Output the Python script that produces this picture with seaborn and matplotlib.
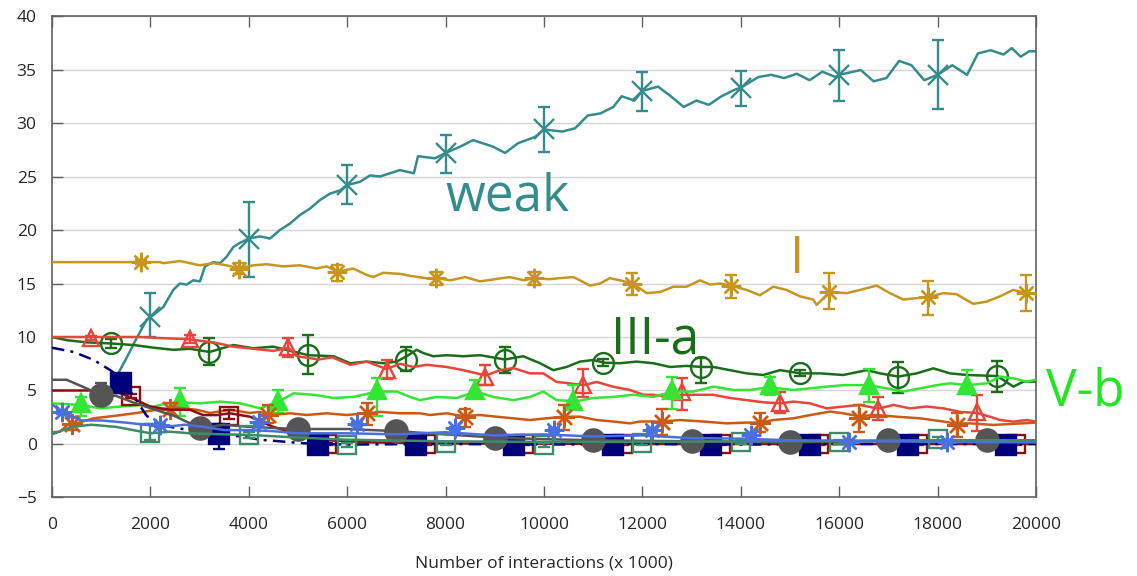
import matplotlib
matplotlib.use("Agg")
import matplotlib.pyplot as plt
import numpy as np
import pandas as pd
import seaborn as sns

# ---- line traces, (interactions x1000, value) ----
weak_line = [(900, 3.5), (1100, 4.3), (1300, 6.2), (1500, 7.9), (1700, 9.7), (1924, 11.6),
             (2060, 12.05), (2263, 12.8), (2466, 14.4), (2600, 15.0), (2738, 14.9), (2872, 15.3),
             (3008, 15.2), (3110, 16.6), (3279, 17.0), (3415, 16.9), (3550, 17.5), (3685, 18.4),
             (3821, 18.8), (4000, 19.2), (4228, 19.4), (4431, 19.2), (4634, 20.0), (4837, 20.6),
             (5041, 21.4), (5244, 22.0), (5447, 22.8), (5650, 23.4), (5854, 23.7), (6000, 24.2),
             (6260, 24.5), (6463, 25.1), (6667, 25.0), (6870, 25.3), (7073, 25.6), (7356, 25.3),
             (7440, 26.9), (7785, 26.7), (8000, 27.2), (8300, 27.8), (8560, 28.4), (8960, 27.8),
             (9210, 27.2), (9470, 28.1), (9820, 28.7), (10000, 29.4), (10370, 29.2), (10630, 29.5),
             (10890, 30.7), (11150, 30.9), (11410, 31.5), (11580, 32.5), (11840, 32.1), (12000, 33.0),
             (12320, 33.4), (12580, 32.5), (12840, 31.5), (13100, 32.1), (13350, 31.7), (13610, 32.5),
             (13870, 33.1), (14000, 33.3), (14360, 34.3), (14620, 34.5), (14880, 34.2), (15140, 34.6),
             (15400, 34.0), (15660, 34.8), (15920, 34.3), (16000, 34.5), (16440, 34.95), (16700, 33.9),
             (16960, 34.2), (17220, 35.8), (17470, 35.4), (17730, 34.0), (18000, 34.5), (18300, 35.4),
             (18600, 34.5), (18820, 36.5), (19080, 36.8), (19340, 36.4), (19510, 37.0), (19690, 36.2),
             (19860, 36.7), (20000, 36.7)]

gold_line = [(0, 17.0), (1000, 17.0), (1800, 17.0), (2195, 17.0), (2263, 16.9), (2600, 17.1),
             (3008, 16.7), (3279, 16.9), (3550, 16.7), (3808, 16.4), (4092, 16.7), (4363, 16.8),
             (4702, 16.6), (5041, 16.7), (5380, 16.4), (5583, 16.6), (5806, 16.1), (6125, 16.4),
             (6396, 15.8), (6531, 15.6), (6734, 16.0), (7073, 15.9), (7300, 15.7), (7600, 15.5),
             (7800, 15.5), (8100, 15.3), (8400, 15.6), (8700, 15.2), (9000, 15.4), (9300, 15.6),
             (9600, 15.3), (9800, 15.5), (10100, 15.4), (10325, 15.5), (10596, 15.6), (10732, 15.3),
             (10935, 14.8), (11138, 15.0), (11341, 15.5), (11545, 15.3), (11803, 15.0), (12088, 14.1),
             (12359, 14.2), (12630, 14.7), (12901, 14.7), (13172, 15.3), (13376, 14.9), (13580, 15.0),
             (13801, 14.8), (14119, 14.4), (14390, 13.9), (14661, 14.7), (14932, 14.4), (15203, 13.8),
             (15474, 13.5), (15542, 13.0), (15813, 14.2), (16153, 14.1), (16424, 14.4), (16762, 14.8),
             (17033, 14.1), (17304, 13.5), (17508, 13.6), (17797, 13.7), (18115, 14.1), (18386, 14.0),
             (18725, 13.1), (18997, 13.3), (19268, 13.8), (19539, 14.4), (19810, 14.1), (20000, 14.0)]

dkgreen_line = [(0, 10.0), (305, 9.7), (700, 9.5), (1186, 9.4), (1660, 9.25), (2066, 9.0),
                (2473, 8.8), (2800, 8.9), (3205, 8.6), (3686, 9.25), (4093, 8.95), (4500, 9.1),
                (4850, 8.7), (5210, 8.3), (5725, 8.2), (6060, 7.55), (6400, 7.7), (6735, 7.55),
                (7007, 7.7), (7209, 8.2), (7412, 8.8), (7548, 8.5), (7751, 8.2), (8022, 8.3),
                (8360, 8.2), (8700, 8.3), (9208, 7.9), (9580, 8.2), (9919, 7.55), (10190, 6.9),
                (10461, 7.2), (10732, 7.7), (11003, 7.85), (11220, 7.6), (11545, 7.55), (11883, 7.7),
                (12222, 7.55), (12561, 7.2), (12900, 7.3), (13204, 7.2), (13442, 7.2), (13780, 6.9),
                (14119, 6.6), (14458, 6.45), (14797, 6.9), (15217, 6.6), (15610, 6.6), (16085, 6.45),
                (16559, 6.9), (16830, 6.6), (17203, 6.3), (17576, 6.6), (17915, 7.07), (18254, 6.6),
                (18593, 6.45), (19217, 6.35), (19542, 5.36), (19746, 5.83), (20000, 5.83)]

ltgreen_line = [(0, 3.8), (576, 3.65), (983, 3.33), (1390, 3.5), (1796, 3.65), (2066, 3.5),
                (2337, 3.8), (2608, 3.9), (3015, 3.8), (3422, 3.96), (3828, 3.8), (4234, 3.33),
                (4607, 3.96), (4912, 4.74), (5318, 4.6), (5725, 4.3), (6131, 4.4), (6600, 4.9),
                (7007, 4.9), (7280, 4.4), (7480, 4.1), (7819, 4.4), (8225, 4.3), (8619, 4.9),
                (8970, 4.4), (9377, 4.1), (9716, 4.4), (9987, 4.9), (10258, 4.1), (10664, 4.0),
                (11003, 4.3), (11409, 4.4), (11816, 4.6), (12222, 4.4), (12629, 4.9), (13035, 4.9),
                (13442, 5.36), (13848, 5.05), (14187, 5.05), (14560, 5.3), (15068, 5.05), (15407, 5.2),
                (15746, 5.36), (16085, 5.5), (16593, 5.5), (16966, 5.2), (17305, 4.9), (17644, 5.2),
                (17983, 5.5), (18254, 5.67), (18607, 5.5), (19000, 5.67), (19271, 6.3), (19542, 6.14),
                (19810, 5.83), (20000, 6.0)]

red_line = [(0, 10.0), (1000, 10.0), (1800, 10.0), (2200, 9.9), (2747, 9.8), (3280, 9.5),
            (3686, 9.1), (4093, 8.9), (4500, 8.7), (4805, 9.0), (4980, 8.2), (5420, 7.9),
            (5700, 8.1), (6060, 7.4), (6400, 7.7), (6800, 7.0), (7073, 7.5), (7345, 7.2),
            (7616, 7.4), (8022, 7.2), (8360, 6.9), (8821, 6.4), (9106, 6.9), (9377, 7.1),
            (9716, 6.6), (9987, 6.6), (10258, 5.8), (10461, 5.7), (10813, 5.5), (11071, 5.8),
            (11409, 5.35), (11748, 5.05), (12019, 4.6), (12222, 4.6), (12493, 4.4), (12798, 4.6),
            (13103, 4.6), (13442, 4.6), (13780, 4.3), (14119, 4.1), (14458, 3.9), (14810, 3.8),
            (15068, 3.96), (15407, 3.8), (15746, 3.33), (16085, 3.5), (16424, 3.65), (16797, 3.3),
            (17102, 3.65), (17441, 3.33), (17780, 3.5), (18119, 3.33), (18458, 3.0), (18809, 2.9),
            (19067, 2.55), (19271, 2.24), (19542, 2.09), (19810, 2.24), (20000, 2.09)]

orange_line = [(0, 1.1), (163, 1.15), (366, 2.0), (480, 1.9), (840, 2.4), (1314, 2.65),
               (1721, 2.9), (2127, 3.2), (2533, 3.4), (2940, 3.2), (3211, 2.9), (3618, 3.2),
               (4024, 2.9), (4228, 3.0), (4431, 2.7), (4837, 2.87), (5176, 2.71), (5583, 2.87),
               (5990, 2.71), (6382, 2.87), (6667, 3.0), (7073, 2.87), (7480, 2.87), (7683, 2.71),
               (8022, 2.87), (8360, 2.6), (8700, 2.71), (9038, 2.55), (9377, 2.4), (9716, 2.24),
               (10054, 2.4), (10393, 2.55), (10732, 2.55), (11071, 2.24), (11409, 2.1), (11748, 1.93),
               (11951, 2.1), (12392, 2.1), (12764, 2.24), (13238, 2.1), (13712, 1.93), (14119, 2.0),
               (14390, 2.0), (14661, 2.24), (15068, 2.4), (15407, 2.7), (15813, 3.03), (16085, 2.87),
               (16389, 2.6), (16762, 2.71), (17169, 2.55), (17644, 2.4), (18119, 2.1), (18388, 1.9),
               (18661, 1.93), (19136, 1.78), (19610, 1.9), (20000, 2.0)]

navy_line = [(0, 9.0), (442, 8.6), (850, 7.85), (1186, 6.9), (1390, 6.2), (1500, 5.6),
             (1660, 4.45), (1931, 2.6), (2337, 1.65), (2744, 1.34), (3410, 0.87), (3821, 0.72),
             (4228, 0.4), (4634, 0.25), (5041, 0.09), (5413, 0.0), (6000, -0.05), (8000, 0.0),
             (10000, -0.05), (12000, 0.0), (14000, -0.05), (16000, 0.0), (18000, 0.0), (20000, 0.0)]

dkred_line = [(0, 5.0), (1186, 5.0), (1390, 4.75), (1721, 4.1), (1992, 3.5), (2398, 3.2),
              (2805, 3.2), (3075, 2.7), (3346, 2.7), (3618, 2.87), (4024, 2.55), (4500, 1.6),
              (5000, 0.9), (5600, 0.35), (6500, 0.15), (8000, 0.05), (12000, 0.0), (20000, 0.0)]

gray_line = [(0, 6.0), (300, 6.0), (600, 5.4), (1000, 4.6), (1300, 4.5), (1700, 3.8),
             (2100, 3.2), (2500, 2.6), (3000, 1.5), (3500, 1.8), (4000, 1.6), (5000, 1.4),
             (6000, 1.4), (7000, 1.2), (8000, 0.9), (9000, 0.6), (10000, 0.45), (11000, 0.35),
             (13000, 0.25), (15000, 0.15), (17000, 0.3), (19000, 0.3), (20000, 0.3)]

sea_line = [(0, 0.9), (400, 1.6), (800, 1.8), (1300, 1.6), (1650, 1.3), (2000, 1.0),
            (2400, 1.15), (2800, 1.0), (3500, 0.9), (4000, 0.85), (5000, 0.6), (6000, 0.4),
            (8000, 0.25), (10000, 0.2), (12000, 0.2), (14000, 0.25), (16000, 0.3), (18000, 0.35),
            (20000, 0.35)]

blue_line = [(0, 3.7), (200, 3.0), (600, 2.2), (1000, 2.2), (1500, 2.0), (1900, 1.8),
             (2300, 1.6), (2700, 1.8), (3100, 1.6), (3500, 1.3), (4000, 1.3), (4500, 1.2),
             (5000, 1.0), (6000, 1.0), (7000, 0.9), (8000, 1.1), (9000, 0.8), (10000, 0.9),
             (11000, 0.7), (12000, 0.8), (13000, 0.55), (14000, 0.5), (15000, 0.35), (16000, 0.3),
             (17000, 0.25), (18000, 0.2), (20000, 0.15)]

# ---- sampled points with error bars: x, mean, low, high ----
weak_x = [2000, 4000, 6000, 8000, 10000, 12000, 14000, 16000, 18000]
weak_y = [11.9, 19.2, 24.2, 27.2, 29.4, 33.0, 33.3, 34.5, 34.5]
weak_lo = [10.0, 15.6, 22.4, 25.3, 27.3, 31.1, 31.6, 32.1, 31.3]
weak_hi = [14.1, 22.6, 26.1, 28.9, 31.5, 34.8, 34.9, 36.8, 37.8]

gold_x = [1800, 3800, 5800, 7800, 9800, 11800, 13800, 15800, 17800, 19800]
gold_y = [17.0, 16.4, 16.1, 15.5, 15.5, 15.0, 14.8, 14.2, 13.7, 14.1]
gold_lo = [16.8, 15.9, 15.2, 14.9, 14.9, 13.9, 13.6, 12.6, 12.1, 12.4]
gold_hi = [17.2, 16.9, 16.7, 16.1, 16.1, 16.0, 15.8, 16.0, 15.2, 15.8]

dkgreen_x = [1200, 3200, 5200, 7200, 9200, 11200, 13200, 15200, 17200, 19200]
dkgreen_y = [9.4, 8.6, 8.3, 7.85, 7.85, 7.6, 7.2, 6.67, 6.3, 6.35]
dkgreen_lo = [9.0, 7.4, 6.5, 6.8, 6.6, 7.3, 5.7, 6.4, 4.74, 4.9]
dkgreen_hi = [9.8, 9.9, 10.2, 9.1, 9.1, 7.9, 8.0, 6.9, 7.7, 7.8]

ltgreen_x = [600, 2600, 4600, 6600, 8600, 10600, 12600, 14600, 16600, 18600]
ltgreen_y = [3.8, 4.1, 4.0, 5.05, 5.05, 4.0, 5.05, 5.5, 5.5, 5.5]
ltgreen_lo = [2.6, 2.6, 2.9, 2.6, 4.3, 3.5, 3.3, 4.6, 3.96, 5.05]
ltgreen_hi = [4.4, 5.2, 5.05, 6.2, 6.0, 5.5, 6.3, 6.3, 6.98, 6.9]

red_x = [800, 2800, 4800, 6800, 8800, 10800, 12800, 14800, 16800, 18800]
red_y = [9.9, 9.8, 9.1, 6.9, 6.3, 5.5, 4.9, 3.8, 3.3, 3.0]
red_lo = [9.7, 9.4, 8.1, 6.1, 5.5, 4.4, 3.2, 2.9, 2.25, 1.2]
red_hi = [10.1, 10.2, 9.9, 7.85, 7.4, 7.0, 6.2, 4.9, 4.4, 4.6]

orange_x = [400, 2400, 4400, 6400, 8400, 10400, 12400, 14400, 16400, 18400]
orange_y = [1.9, 3.3, 2.7, 2.87, 2.55, 2.55, 2.08, 1.99, 2.4, 1.78]
orange_lo = [1.3, 2.8, 1.94, 1.78, 1.6, 1.3, 0.84, 1.16, 1.16, 0.68]
orange_hi = [2.5, 3.8, 3.6, 3.8, 3.3, 3.6, 3.24, 2.87, 3.6, 2.87]

navy_x = [1400, 3400, 5400, 7400, 9400, 11400, 13400, 15400, 17400, 19400]
navy_y = [5.7, 0.9, -0.05, -0.1, -0.1, -0.1, -0.1, -0.1, -0.1, -0.1]
navy_lo = [4.8, -0.5, -0.2, -0.2, -0.2, -0.2, -0.2, -0.2, -0.2, -0.2]
navy_hi = [6.5, 1.9, 0.1, 0.0, 0.0, 0.0, 0.0, 0.0, 0.0, 0.0]

dkred_x = [1600, 3600, 5600, 7600, 9600, 11600, 13600, 15600, 17600, 19600]
dkred_y = [4.5, 2.6, 0.0, 0.0, 0.0, 0.0, 0.0, 0.0, 0.0, 0.0]
dkred_lo = [4.3, 2.3, -0.1, -0.1, -0.1, -0.1, -0.1, -0.1, -0.1, -0.1]
dkred_hi = [4.7, 3.2, 0.1, 0.1, 0.1, 0.1, 0.1, 0.1, 0.1, 0.1]

gray_x = [1000, 3000, 5000, 7000, 9000, 11000, 13000, 15000, 17000, 19000]
gray_y = [4.6, 1.5, 1.4, 1.2, 0.55, 0.35, 0.25, 0.15, 0.35, 0.35]
gray_lo = [3.8, 1.3, 1.2, 1.0, 0.4, 0.2, 0.1, 0.0, 0.2, 0.2]
gray_hi = [5.7, 1.7, 1.6, 1.4, 0.7, 0.5, 0.4, 0.3, 0.5, 0.5]

sea_x = [2000, 4000, 6000, 8000, 10000, 12000, 14000, 16000, 18000]
sea_y = [1.0, 0.85, -0.1, 0.05, -0.1, 0.06, 0.22, 0.2, 0.5]
sea_lo = [0.4, 0.6, -0.3, -0.1, -0.3, -0.1, 0.0, 0.0, 0.3]
sea_hi = [1.9, 1.1, 0.1, 0.2, 0.1, 0.2, 0.4, 0.4, 0.7]

blue_x = [200, 2200, 4200, 6200, 8200, 10200, 12200, 14200, 16200, 18200]
blue_y = [3.0, 1.8, 2.1, 1.9, 1.46, 1.3, 1.3, 0.84, 0.22, 0.22]
blue_lo = [2.8, 1.6, 1.9, 1.7, 1.3, 1.1, 1.1, 0.6, 0.0, 0.0]
blue_hi = [3.2, 2.0, 2.3, 2.1, 1.6, 1.5, 1.5, 1.0, 0.4, 0.4]

x_ticks = list(range(0, 20001, 2000))
y_ticks = list(range(-5, 41, 5))

labels = [("weak", 9250, 21.8, "#348c8c"),
          ("I", 15140, 16.0, "#c8961f"),
          ("III-a", 12260, 8.5, "#1a6e1a"),
          ("V-b", 21000, 3.6, "#22e622")]

ASTER = (8, 2, 0)


def draw_series(ax, line, xs, ys, lo, hi, color, marker, ms, filled=True,
                ls="-", z=2):
    df = pd.DataFrame(line, columns=["x", "y"])
    sns.lineplot(data=df, x="x", y="y", color=color, lw=1.8, linestyle=ls,
                 estimator=None, sort=False, ax=ax, zorder=z)
    ys = np.array(ys)
    yerr = [ys - np.array(lo), np.array(hi) - ys]
    ax.errorbar(xs, ys, yerr=yerr, fmt="none", ecolor=color, elinewidth=1.7,
                capsize=4.5, capthick=1.7, zorder=z + 0.3)
    ax.plot(xs, ys, ls="none", marker=marker, ms=ms, color=color,
            mfc=color if filled else "none", mec=color, mew=1.7, zorder=z + 0.5)


sns.set_style("white")
plt.rcParams["font.family"] = ["Open Sans", "DejaVu Sans"]

fig = plt.figure(figsize=(11.37, 5.76), dpi=100)
ax = fig.add_axes([0.0457, 0.1363, 0.8654, 0.8359])

draw_series(ax, weak_line, weak_x, weak_y, weak_lo, weak_hi, "#348c8c", "x", 14, z=2)
draw_series(ax, gold_line, gold_x, gold_y, gold_lo, gold_hi, "#c8961f", ASTER, 14, z=3)
draw_series(ax, dkgreen_line, dkgreen_x, dkgreen_y, dkgreen_lo, dkgreen_hi, "#1a6e1a", "o", 15,
            filled=False, z=4)
draw_series(ax, red_line, red_x, red_y, red_lo, red_hi, "#e8453c", "^", 12, filled=False, z=5)
draw_series(ax, ltgreen_line, ltgreen_x, ltgreen_y, ltgreen_lo, ltgreen_hi, "#33e633", "^", 13, z=6)
draw_series(ax, orange_line, orange_x, orange_y, orange_lo, orange_hi, "#cc5a14", ASTER, 15, z=7)
draw_series(ax, dkred_line, dkred_x, dkred_y, dkred_lo, dkred_hi, "#8b1010", "s", 13,
            filled=False, z=8)
draw_series(ax, navy_line, navy_x, navy_y, navy_lo, navy_hi, "#00007a", "s", 14,
            ls=(0, (5, 2.5, 1.2, 2.5)), z=9)
draw_series(ax, gray_line, gray_x, gray_y, gray_lo, gray_hi, "#555555", "o", 16, z=10)
draw_series(ax, sea_line, sea_x, sea_y, sea_lo, sea_hi, "#3c8c6c", "s", 13, filled=False, z=11)
draw_series(ax, blue_line, blue_x, blue_y, blue_lo, blue_hi, "#4a70e0", ASTER, 14, z=12)

for text, tx, ty, col in labels:
    ax.text(tx, ty, text, color=col, fontsize=37, ha="center", va="baseline",
            clip_on=False, zorder=20)

ax.set_xlim(0, 20000)
ax.set_ylim(-5, 40)
ax.set_xticks(x_ticks)
ax.set_yticks(y_ticks)
ax.yaxis.grid(True, color="#d6d6d6", lw=1)
ax.xaxis.grid(False)
ax.set_axisbelow(True)
for sp in ax.spines.values():
    sp.set_color("#606060")
    sp.set_linewidth(1.2)
ax.tick_params(axis="x", direction="in", top=True, bottom=True, length=8, width=1,
               color="#606060", labelsize=12.5, pad=14)
ax.tick_params(axis="y", direction="in", left=True, right=False, length=8, width=1,
               color="#606060", labelsize=12.5, pad=11)
ax.set_xlabel("Number of interactions (x 1000)", fontsize=12.5, labelpad=16)
ax.set_ylabel("")

fig.savefig("out.png", dpi=100)
